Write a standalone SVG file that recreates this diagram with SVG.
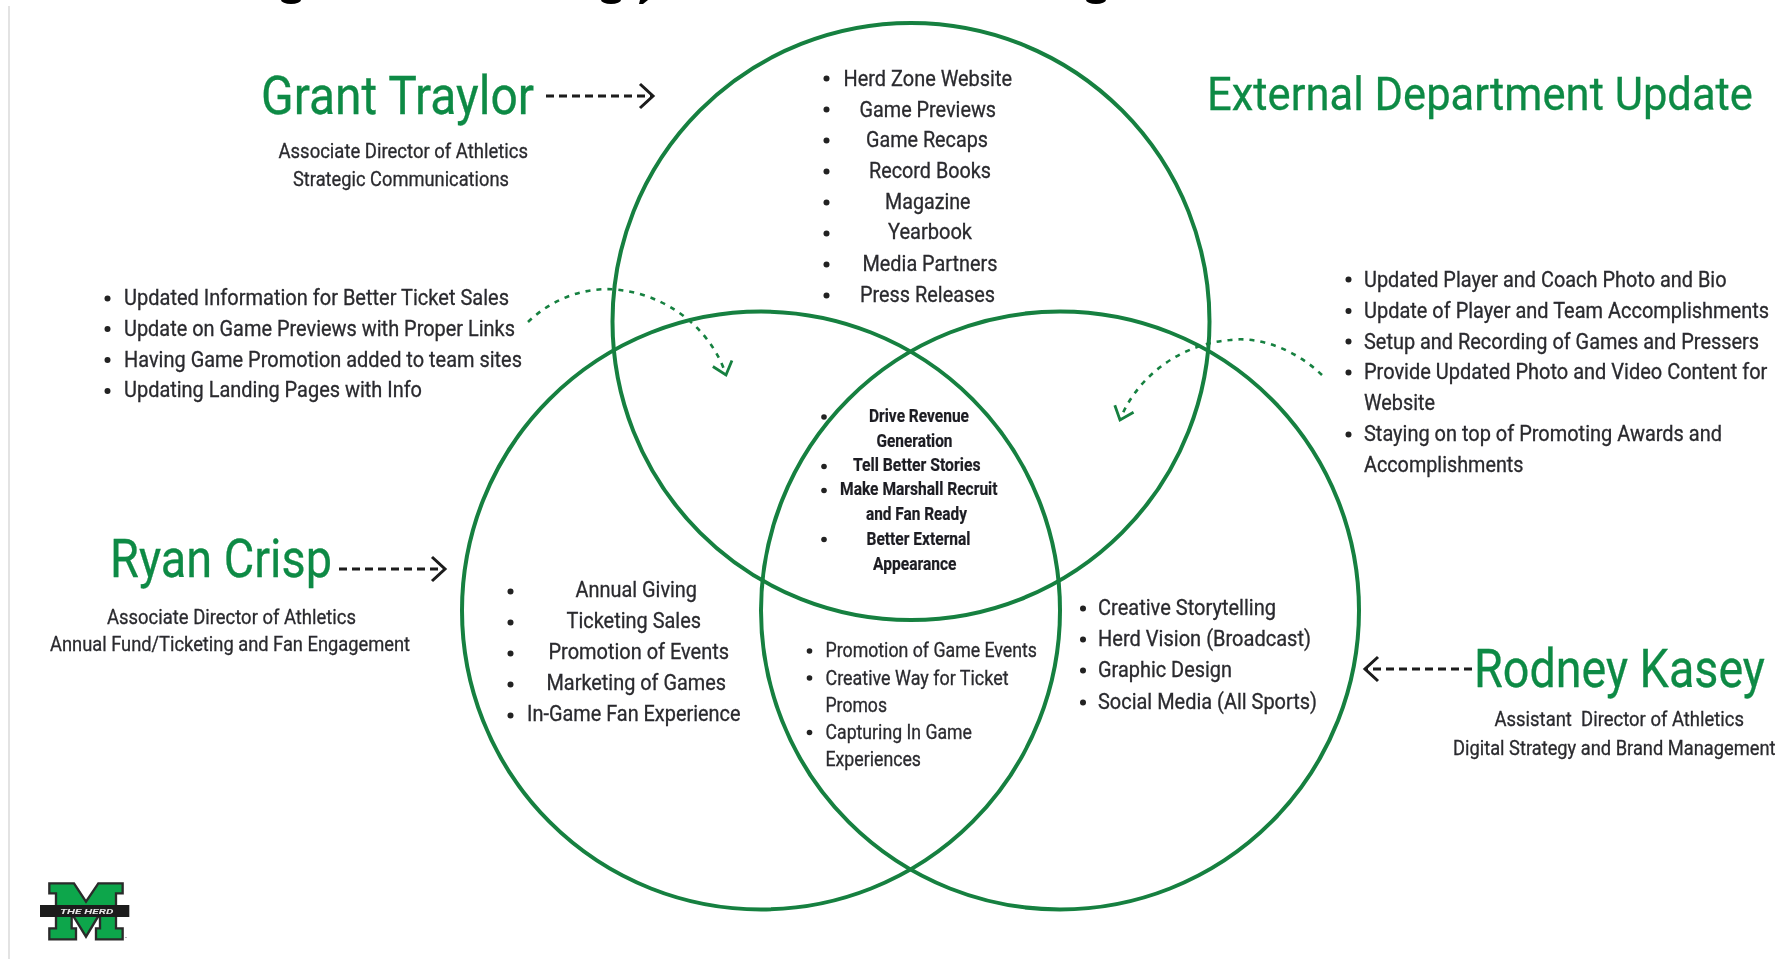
<svg xmlns="http://www.w3.org/2000/svg" width="1785" height="959" viewBox="0 0 1785 959">
<style>
text{font-family:Roboto,"Liberation Sans",sans-serif;fill:#2a2a2e}
.t{font-size:53px;fill:#108a45;stroke:#108a45;stroke-width:.3}
.e{font-size:47px;fill:#108a45;stroke:#108a45;stroke-width:.3}
.r{font-size:20.5px;stroke:#2a2a2e;stroke-width:.3}
.l{font-size:21.5px;stroke:#2a2a2e;stroke-width:.3}
.m{font-size:20.5px;stroke:#2a2a2e;stroke-width:.3}
.c{font-size:17.5px;font-weight:700;fill:#1c1c22;stroke:#1c1c22;stroke-width:.2}
.v{fill:none;stroke:#14803f;stroke-width:4}
.b{fill:#222}
.d{fill:none;stroke:#1a1a1a;stroke-width:2.8;stroke-dasharray:8 5}
.g{fill:none;stroke:#14803f;stroke-width:2.6;stroke-dasharray:5 6}
</style>
<defs>
<filter id="soft" filterUnits="userSpaceOnUse" x="0" y="0" width="1785" height="959"><feGaussianBlur stdDeviation="0.5"/></filter>
<marker id="ak" markerUnits="userSpaceOnUse" markerWidth="30" markerHeight="30" refX="15" refY="15" orient="auto"><path d="M2,3 L15,15 L2,27" fill="none" stroke="#1a1a1a" stroke-width="3"/></marker>
<marker id="ag" markerUnits="userSpaceOnUse" markerWidth="30" markerHeight="30" refX="15" refY="15" orient="auto"><path d="M3,5 L15,15 L3,25" fill="none" stroke="#14803f" stroke-width="2.8"/></marker>
</defs>
<rect width="1785" height="959" fill="#fff"/>
<g filter="url(#soft)">
<path d="M9,6V959" stroke="#dcdcdc" stroke-width="1.6"/>
<g id="cropped-heading" fill="#000">
<ellipse cx="291" cy="0" rx="10" ry="4"/><ellipse cx="611" cy="0" rx="10" ry="4"/><path d="M640,0h8l-5,4h-4z"/><ellipse cx="1096" cy="0" rx="10" ry="4"/>
</g>
<g id="venn-top"><circle class="v" cx="911" cy="321.5" r="298.5"/></g>
<g id="venn-left"><circle class="v" cx="761" cy="610.5" r="299"/></g>
<g id="venn-right"><circle class="v" cx="1060" cy="610.5" r="299"/></g>
<g id="connectors">
<path class="d" d="M546,96H653" marker-end="url(#ak)"/>
<path class="d" d="M339,569H445" marker-end="url(#ak)"/>
<path class="d" d="M1472,669H1365" marker-end="url(#ak)"/>
<path class="g" d="M528,322C555,296 590,286 620,290C680,298 715,340 726,375" marker-end="url(#ag)"/>
<path class="g" d="M1322,375C1296,350 1260,336 1230,340C1172,345 1133,385 1120,420" marker-end="url(#ag)"/>
</g>
<g id="grant-traylor" transform="translate(0,-.6)">
<text class="t" x="261" y="115" textLength="273" lengthAdjust="spacingAndGlyphs">Grant Traylor</text>
<text class="r" x="278.5" y="159" textLength="249.5" lengthAdjust="spacingAndGlyphs">Associate Director of Athletics</text>
<text class="r" x="293" y="186.5" textLength="216" lengthAdjust="spacingAndGlyphs">Strategic Communications</text>
</g>
<g id="external-title"><text class="e" transform="translate(1207,110) scale(.93,1)" textLength="587" lengthAdjust="spacingAndGlyphs">External Department Update</text></g>
<g id="ryan-crisp" transform="translate(0,-1)">
<text class="t" x="110" y="578" textLength="222" lengthAdjust="spacingAndGlyphs">Ryan Crisp</text>
<text class="r" x="107" y="625" textLength="249" lengthAdjust="spacingAndGlyphs">Associate Director of Athletics</text>
<text class="r" x="50" y="652" textLength="360" lengthAdjust="spacingAndGlyphs">Annual Fund/Ticketing and Fan Engagement</text>
</g>
<g id="rodney-kasey" transform="translate(0,-.8)">
<text class="t" transform="translate(1474,688) scale(.887,1)" textLength="328" lengthAdjust="spacingAndGlyphs">Rodney Kasey</text>
<text class="r" x="1494.5" y="727" textLength="249.5" lengthAdjust="spacingAndGlyphs" xml:space="preserve">Assistant  Director of Athletics</text>
<text class="r" transform="translate(1453,755.5) scale(.9,1)" textLength="358.3" lengthAdjust="spacingAndGlyphs">Digital Strategy and Brand Management</text>
</g>
<g id="list-top" transform="translate(0,-.5)">
<circle class="b" cx="826.5" cy="79" r="3"/><text class="l" x="843.5" y="86" textLength="168.5" lengthAdjust="spacingAndGlyphs">Herd Zone Website</text>
<circle class="b" cx="826.5" cy="110" r="3"/><text class="l" x="859.5" y="117" textLength="136.5" lengthAdjust="spacingAndGlyphs">Game Previews</text>
<circle class="b" cx="826.5" cy="141" r="3"/><text class="l" x="866" y="147.5" textLength="122" lengthAdjust="spacingAndGlyphs">Game Recaps</text>
<circle class="b" cx="826.5" cy="172" r="3"/><text class="l" x="869" y="178" textLength="122" lengthAdjust="spacingAndGlyphs">Record Books</text>
<circle class="b" cx="826.5" cy="203" r="3"/><text class="l" x="885" y="209" textLength="85.5" lengthAdjust="spacingAndGlyphs">Magazine</text>
<circle class="b" cx="826.5" cy="234" r="3"/><text class="l" x="888" y="239.5" textLength="84" lengthAdjust="spacingAndGlyphs">Yearbook</text>
<circle class="b" cx="826.5" cy="265" r="3"/><text class="l" x="862.5" y="271.5" textLength="135" lengthAdjust="spacingAndGlyphs">Media Partners</text>
<circle class="b" cx="826.5" cy="296" r="3"/><text class="l" x="860" y="302.5" textLength="135" lengthAdjust="spacingAndGlyphs">Press Releases</text>
</g>
<g id="list-ticket" transform="translate(0,-.4)">
<circle class="b" cx="107.5" cy="299" r="3"/><text class="l" x="124" y="305" textLength="385" lengthAdjust="spacingAndGlyphs">Updated Information for Better Ticket Sales</text>
<circle class="b" cx="107.5" cy="329.5" r="3"/><text class="l" x="124" y="336" textLength="391" lengthAdjust="spacingAndGlyphs">Update on Game Previews with Proper Links</text>
<circle class="b" cx="107.5" cy="360.5" r="3"/><text class="l" x="124" y="367" textLength="398" lengthAdjust="spacingAndGlyphs">Having Game Promotion added to team sites</text>
<circle class="b" cx="107.5" cy="391.5" r="3"/><text class="l" x="124" y="397.5" textLength="298" lengthAdjust="spacingAndGlyphs">Updating Landing Pages with Info</text>
</g>
<g id="list-external" transform="translate(0,-.5)">
<circle class="b" cx="1348.5" cy="280" r="3"/><text class="l" x="1364" y="287" textLength="362.5" lengthAdjust="spacingAndGlyphs">Updated Player and Coach Photo and Bio</text>
<circle class="b" cx="1348.5" cy="311.5" r="3"/><text class="l" transform="translate(1364,318) scale(.9,1)" textLength="450" lengthAdjust="spacingAndGlyphs">Update of Player and Team Accomplishments</text>
<circle class="b" cx="1348.5" cy="342" r="3"/><text class="l" transform="translate(1364,349) scale(.9,1)" textLength="439" lengthAdjust="spacingAndGlyphs">Setup and Recording of Games and Pressers</text>
<circle class="b" cx="1348.5" cy="373" r="3"/><text class="l" transform="translate(1364,379.5) scale(.9,1)" textLength="448.2" lengthAdjust="spacingAndGlyphs">Provide Updated Photo and Video Content for</text>
<text class="l" x="1364" y="410" textLength="71" lengthAdjust="spacingAndGlyphs">Website</text>
<circle class="b" cx="1348.5" cy="435" r="3"/><text class="l" x="1364" y="441" textLength="358" lengthAdjust="spacingAndGlyphs">Staying on top of Promoting Awards and</text>
<text class="l" x="1364" y="472" textLength="159.5" lengthAdjust="spacingAndGlyphs">Accomplishments</text>
</g>
<g id="list-center" transform="translate(0,-.5)">
<circle class="b" cx="824" cy="417.5" r="2.8"/><text class="c" x="869" y="422.5" textLength="100" lengthAdjust="spacingAndGlyphs">Drive Revenue</text>
<text class="c" x="876.5" y="447.5" textLength="76" lengthAdjust="spacingAndGlyphs">Generation</text>
<circle class="b" cx="824" cy="467" r="2.8"/><text class="c" x="853" y="471.5" textLength="127.5" lengthAdjust="spacingAndGlyphs">Tell Better Stories</text>
<circle class="b" cx="824" cy="491" r="2.8"/><text class="c" x="840" y="495.5" textLength="157.5" lengthAdjust="spacingAndGlyphs">Make Marshall Recruit</text>
<text class="c" x="866" y="520.5" textLength="101" lengthAdjust="spacingAndGlyphs">and Fan Ready</text>
<circle class="b" cx="824" cy="540" r="2.8"/><text class="c" x="866.5" y="545" textLength="104" lengthAdjust="spacingAndGlyphs">Better External</text>
<text class="c" x="873" y="570" textLength="83.5" lengthAdjust="spacingAndGlyphs">Appearance</text>
</g>
<g id="list-fundraising" transform="translate(0,-.6)">
<circle class="b" cx="510.5" cy="592" r="3"/><text class="l" x="575.5" y="598" textLength="121.5" lengthAdjust="spacingAndGlyphs">Annual Giving</text>
<circle class="b" cx="510.5" cy="623" r="3"/><text class="l" x="566.5" y="629" textLength="134.5" lengthAdjust="spacingAndGlyphs">Ticketing Sales</text>
<circle class="b" cx="510.5" cy="654" r="3"/><text class="l" x="548.5" y="660" textLength="180.5" lengthAdjust="spacingAndGlyphs">Promotion of Events</text>
<circle class="b" cx="510.5" cy="685" r="3"/><text class="l" x="546.5" y="690.5" textLength="179.5" lengthAdjust="spacingAndGlyphs">Marketing of Games</text>
<circle class="b" cx="510.5" cy="716" r="3"/><text class="l" x="527" y="721.5" textLength="213.5" lengthAdjust="spacingAndGlyphs">In-Game Fan Experience</text>
</g>
<g id="list-promotion" transform="translate(0,-.5)">
<circle class="b" cx="809.5" cy="651.5" r="2.8"/><text class="m" x="825.5" y="657.5" textLength="211.5" lengthAdjust="spacingAndGlyphs">Promotion of Game Events</text>
<circle class="b" cx="809.5" cy="678.5" r="2.8"/><text class="m" x="825.5" y="685" textLength="183" lengthAdjust="spacingAndGlyphs">Creative Way for Ticket</text>
<text class="m" x="825.5" y="712" textLength="61.5" lengthAdjust="spacingAndGlyphs">Promos</text>
<circle class="b" cx="809.5" cy="733" r="2.8"/><text class="m" x="825.5" y="739" textLength="146.5" lengthAdjust="spacingAndGlyphs">Capturing In Game</text>
<text class="m" x="825.5" y="766" textLength="95.5" lengthAdjust="spacingAndGlyphs">Experiences</text>
</g>
<g id="list-creative" transform="translate(0,-.5)">
<circle class="b" cx="1083" cy="609" r="3"/><text class="l" x="1098" y="615" textLength="178" lengthAdjust="spacingAndGlyphs">Creative Storytelling</text>
<circle class="b" cx="1083" cy="640" r="3"/><text class="l" x="1098" y="646" textLength="213" lengthAdjust="spacingAndGlyphs">Herd Vision (Broadcast)</text>
<circle class="b" cx="1083" cy="671" r="3"/><text class="l" x="1098" y="677" textLength="134" lengthAdjust="spacingAndGlyphs">Graphic Design</text>
<circle class="b" cx="1083" cy="703" r="3"/><text class="l" x="1098" y="709" textLength="219" lengthAdjust="spacingAndGlyphs">Social Media (All Sports)</text>
</g>
<g id="logo" transform="translate(30,870) scale(.3333)">
<path d="M58,40H132L168,95L205,40H278V70H258V175H278V208H198V175H210V130L168,200L125,130V175H138V208H58V175H78V70H58Z" fill="#0ea64b" stroke="#2a2a2a" stroke-width="7" stroke-linejoin="miter"/>
<rect x="30" y="105" width="268" height="36" fill="#1d1a1c"/>
<text x="90" y="131" font-size="24" font-weight="700" font-style="italic" style="fill:#e8e8e8" textLength="160" lengthAdjust="spacingAndGlyphs">THE HERD</text>
<text x="284" y="209" font-size="12" style="fill:#555">™</text>
</g>
</g>
</svg>
